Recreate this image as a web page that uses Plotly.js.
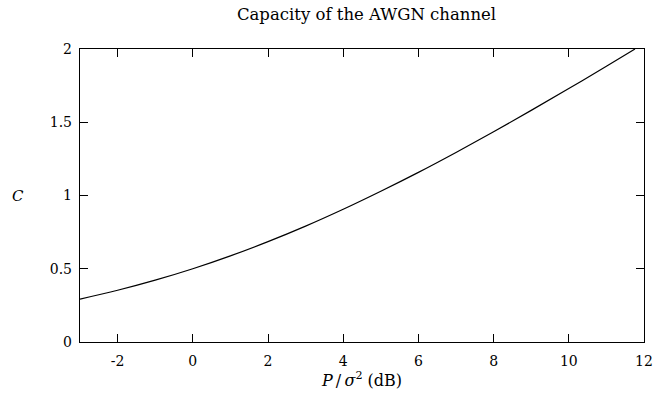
<!DOCTYPE html>
<html>
<head>
<meta charset="utf-8">
<script src="https://cdn.plot.ly/plotly-3.0.1.min.js"></script>
<style>html,body{margin:0;padding:0;background:#fff;}#chart{width:658px;height:397px;}</style>
</head>
<body>
<div id="chart"></div>
<script>
// Signal-to-noise ratio in dB (x) and capacity C (y)
const snrDb = [-3, -2, -1, 0, 1, 2, 3, 4, 5, 6, 7, 8, 9, 10, 11, 11.76];
const capacity = [0.293, 0.353, 0.422, 0.5, 0.588, 0.685, 0.791, 0.906, 1.029, 1.158, 1.294, 1.435, 1.581, 1.730, 1.882, 2.0];
const xTicks = [-2, 0, 2, 4, 6, 8, 10, 12];
const yTicks = [0, 0.5, 1, 1.5, 2];
const yTickText = ['0', '0.5', '1', '1.5', '2'];

const fam = 'DejaVu Serif, serif';
const font = {family: fam, size: 14, color: '#000'};

const trace = {
  x: snrDb, y: capacity, type: 'scatter', mode: 'lines',
  line: {color: '#000', width: 1.2, shape: 'spline'},
  hoverinfo: 'skip'
};

const layout = {
  width: 658, height: 397,
  margin: {l: 80, r: 14, t: 49, b: 55},
  paper_bgcolor: '#fff', plot_bgcolor: '#fff',
  font: font,
  showlegend: false,
  title: {text: 'Capacity of the AWGN channel', font: {family: fam, size: 16.5, color: '#000'}, x: 0.557, xanchor: 'center', y: 0.978, yanchor: 'top'},
  xaxis: {
    range: [-3, 12], tickvals: xTicks, ticktext: xTicks.map(String),
    ticks: 'inside', ticklen: 8, tickcolor: '#000', tickwidth: 1,
    showline: true, linecolor: '#000', linewidth: 1.2, mirror: 'ticks',
    showgrid: false, zeroline: false, tickfont: font, ticklabelstandoff: 6,
    title: {text: '<i>P</i>\u2009/\u2009<i>σ</i><sup>2</sup> (dB)', font: {family: fam, size: 16, color: '#000'}, standoff: 5}
  },
  yaxis: {
    range: [0, 2], tickvals: yTicks, ticktext: yTickText,
    ticks: 'inside', ticklen: 8, tickcolor: '#000', tickwidth: 1,
    showline: true, linecolor: '#000', linewidth: 1.2, mirror: 'ticks',
    showgrid: false, zeroline: false, tickfont: font, ticklabelstandoff: 4
  },
  annotations: [{
    text: '<i>C</i>', xref: 'paper', yref: 'paper', x: -0.11, y: 0.5,
    xanchor: 'center', yanchor: 'middle', showarrow: false, font: {family: fam, size: 15, color: '#000'}
  }]
};

Plotly.newPlot('chart', [trace], layout, {displayModeBar: false, staticPlot: true});
</script>
</body>
</html>
